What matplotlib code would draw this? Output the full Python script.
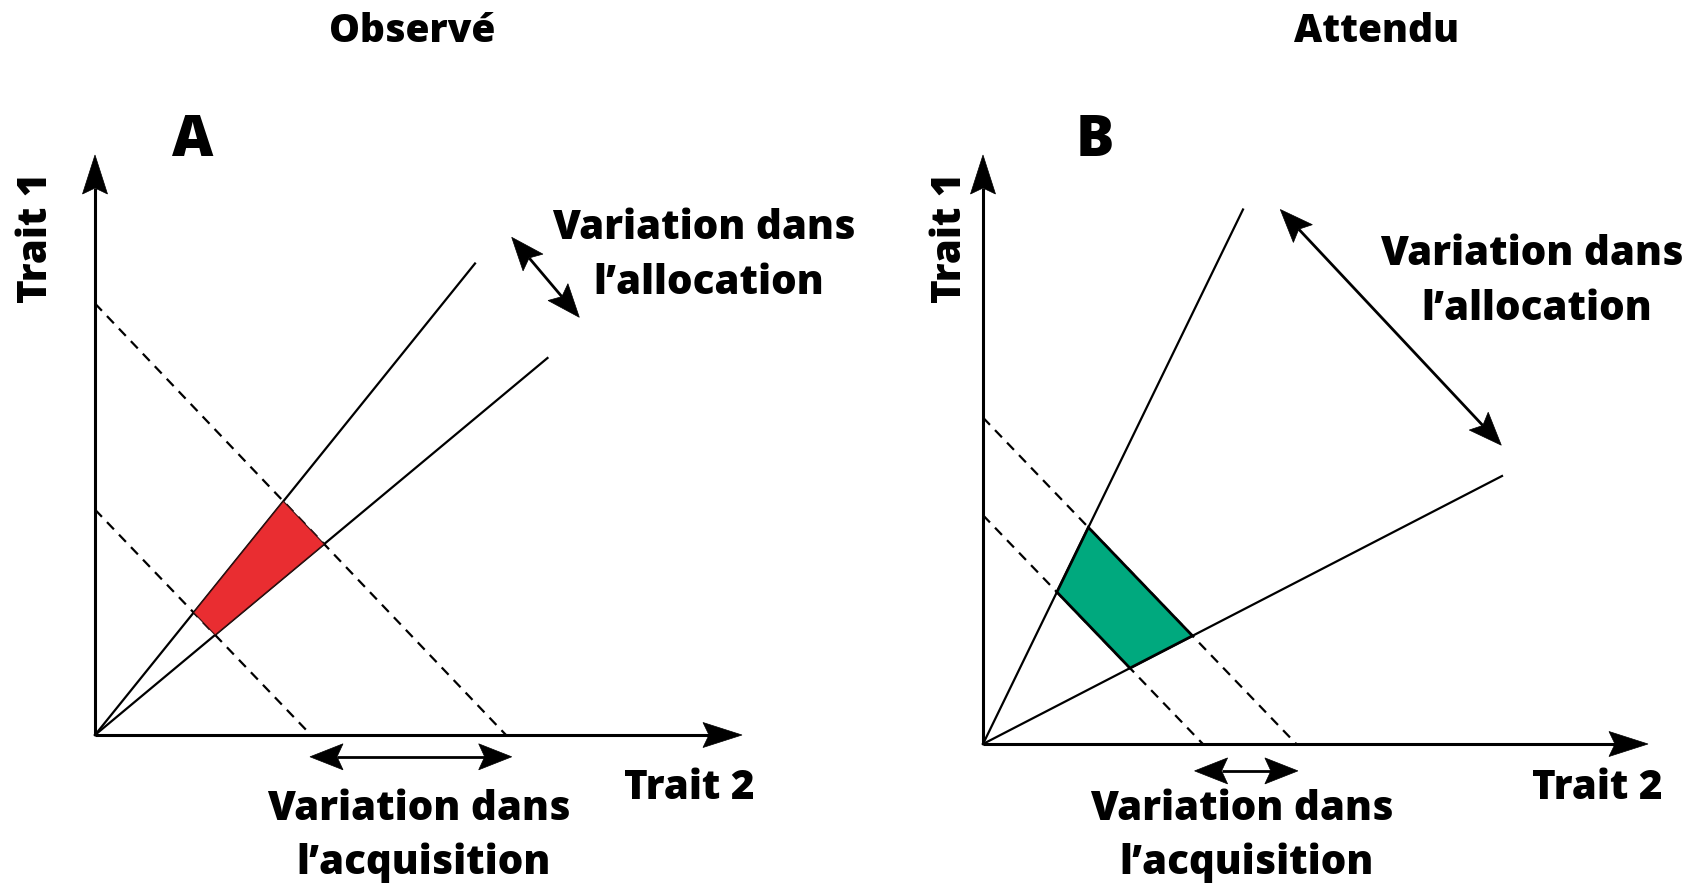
import numpy as np
import matplotlib
matplotlib.use("Agg")
import matplotlib.pyplot as plt
from matplotlib.patches import Polygon

# ---------------- data (trait units = pixels, measured from each panel origin) -------------
panel_titles = ["Observé", "Attendu"]
panel_letters = ["A", "B"]
origins = [(95, 735), (983, 744)]              # pixel position of each panel's origin
axis_x_len = [647, 665]
axis_y_len = [580, 589]
ray_steep_end = [(380, 471.5), (260, 534.5)]
ray_shallow_end = [(452.5, 377), (519, 268)]
dash_upper = [(411, 431.5), (313.3, 326.4)]   # (x-intercept, y-intercept)
dash_lower = [(216, 225.4), (219.9, 228.8)]
alloc_arrow = [((416.7, 497.7), (484.3, 417.7)), ((297.3, 534.5), (518.3, 298.8))]
acq_arrow = [((215, -21.8), (416.7, -21.8)), ((211.6, -26.9), (314.9, -26.9))]
fill_colors = ["#E92D31", "#00A97E"]
edge_colors = ["#3a1010", "black"]
edge_widths = [0.8, 2.0]

axis_label_x = "Trait 2"
axis_label_y = "Trait 1"
alloc_text = ["Variation dans", "l\u2019allocation"]
acq_text = ["Variation dans", "l\u2019acquisition"]

# text anchors (pixel positions)
title_pos = [(412, 42), (1377, 42)]
letter_pos = [(193, 156), (1094.5, 156)]
ylabel_pos = [(47.5, 238), (961, 238)]
xlabel_pos = [(689, 799), (1597, 799)]
alloc_pos = [[(703.5, 239), (708.5, 294)], [(1532, 265), (1536.5, 320)]]
acq_pos = [[(419, 820), (423.5, 874)], [(1242, 820), (1247, 874)]]

# ---------------- figure --------------------------------------------------------------------
W, H = 1700, 883
fig = plt.figure(figsize=(W / 100, H / 100), dpi=100)
ax = fig.add_axes([0, 0, 1, 1])
ax.set_xlim(0, W)
ax.set_ylim(H, 0)
ax.axis("off")

FONT = ["Open Sans", "DejaVu Sans"]
WEIGHT = "heavy"


def to_px(o, p):
    return np.array([o[0] + p[0], o[1] - p[1]], dtype=float)


def head(tip, back, length, halfw, notch, z=5):
    tip = np.asarray(tip, float)
    d = tip - np.asarray(back, float)
    d /= np.linalg.norm(d)
    n = np.array([-d[1], d[0]])
    pts = [tip, tip - d * length + n * halfw, tip - d * (length - notch), tip - d * length - n * halfw]
    ax.add_patch(Polygon(pts, closed=True, facecolor="black", edgecolor="black", lw=0.5, zorder=z))
    return tip - d * (length - notch)


def line_intersect(p1, p2, p3, p4):
    p1, p2, p3, p4 = map(lambda v: np.asarray(v, float), (p1, p2, p3, p4))
    d1 = p2 - p1
    d2 = p4 - p3
    A = np.array([d1, -d2]).T
    t, _ = np.linalg.solve(A, p3 - p1)
    return p1 + t * d1


for i in range(2):
    o = origins[i]
    O = to_px(o, (0, 0))
    # axes with arrowheads
    xt = to_px(o, (axis_x_len[i], 0))
    yt = to_px(o, (0, axis_y_len[i]))
    bx = head(xt, O, 39, 12.5, 6)
    by = head(yt, O, 39, 12.5, 6)
    ax.plot([O[0], bx[0]], [O[1], bx[1]], color="black", lw=2.2, solid_capstyle="butt", zorder=4)
    ax.plot([O[0], by[0]], [O[1], by[1]], color="black", lw=2.2, solid_capstyle="butt", zorder=4)

    # rays
    rs = to_px(o, ray_steep_end[i])
    rh = to_px(o, ray_shallow_end[i])
    for r in (rs, rh):
        ax.plot([O[0], r[0]], [O[1], r[1]], color="black", lw=1.6, zorder=3)

    # dashed iso-acquisition lines
    du = (to_px(o, (0, dash_upper[i][1])), to_px(o, (dash_upper[i][0], 0)))
    dl = (to_px(o, (0, dash_lower[i][1])), to_px(o, (dash_lower[i][0], 0)))
    for a, b in (du, dl):
        ax.plot([a[0], b[0]], [a[1], b[1]], color="black", lw=1.6, ls=(0, (4.5, 3.3)), zorder=2)

    # filled region = intersections of rays and dashed lines
    c1 = line_intersect(O, rs, *dl)
    c2 = line_intersect(O, rs, *du)
    c3 = line_intersect(O, rh, *du)
    c4 = line_intersect(O, rh, *dl)
    ax.add_patch(Polygon([c1, c2, c3, c4], closed=True, facecolor=fill_colors[i],
                         edgecolor=edge_colors[i], lw=edge_widths[i], joinstyle="miter", zorder=6))

    # double arrows
    for (p, q) in (alloc_arrow[i], acq_arrow[i]):
        P = to_px(o, p)
        Q = to_px(o, q)
        bp = head(P, Q, 33, 13, 6)
        bq = head(Q, P, 33, 13, 6)
        ax.plot([bp[0], bq[0]], [bp[1], bq[1]], color="black", lw=2.0, solid_capstyle="butt", zorder=4)

    # texts
    ax.text(*title_pos[i], panel_titles[i], ha="center", va="baseline", fontsize=28,
            fontweight=WEIGHT, family=FONT)
    ax.text(*letter_pos[i], panel_letters[i], ha="center", va="baseline", fontsize=41,
            fontweight=WEIGHT, family=FONT)
    ax.text(*ylabel_pos[i], axis_label_y, ha="center", va="baseline", rotation=90,
            rotation_mode="anchor", fontsize=29, fontweight=WEIGHT, family=FONT)
    ax.text(*xlabel_pos[i], axis_label_x, ha="center", va="baseline", fontsize=29,
            fontweight=WEIGHT, family=FONT)
    for txt, pos in zip(alloc_text, alloc_pos[i]):
        ax.text(*pos, txt, ha="center", va="baseline", fontsize=29, fontweight=WEIGHT, family=FONT)
    for txt, pos in zip(acq_text, acq_pos[i]):
        ax.text(*pos, txt, ha="center", va="baseline", fontsize=29, fontweight=WEIGHT, family=FONT)

fig.savefig("out.png", dpi=100, facecolor="white")
